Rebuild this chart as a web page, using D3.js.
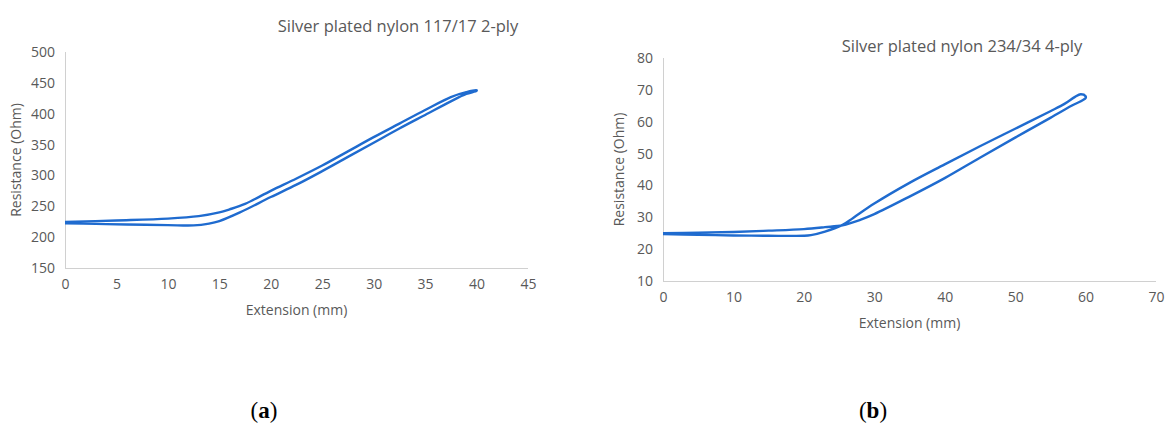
<!DOCTYPE html>
<html>
<head>
<meta charset="utf-8">
<script src="https://cdn.jsdelivr.net/npm/d3@7"></script>
<style>
    body { margin: 0; background: #fff; }
    .tick text { fill: #595959; font-family: "Open Sans", sans-serif; font-size: 14px; }
    .axis path, .axis line { stroke: #d0d0d0; }
</style>
</head>
<body>
<div id="chartdiv"></div>
<script>
// chart (a) data: extension (mm) and resistance (Ohm), loading then unloading
let a_out_ext = [0, 3, 6, 10, 12.5, 14, 15, 17, 20, 22.5, 25, 27.5, 30, 32.5, 35, 37.5, 39, 40],
    a_out_res = [222.5, 221.5, 220.5, 219.5, 219, 222, 226, 240, 265, 285, 307, 330, 353, 376, 398, 420, 432, 437],
    a_back_ext = [40, 39, 37.5, 35, 32.5, 30, 27.5, 25, 22.5, 20, 17.5, 16, 15, 13, 10, 5, 0],
    a_back_res = [438, 435, 427, 406, 384, 362, 339, 316, 295, 275, 254, 245, 240, 234, 230, 227, 224.5];
let a_xticks = [0, 5, 10, 15, 20, 25, 30, 35, 40, 45],
    a_yticks = [150, 200, 250, 300, 350, 400, 450, 500];

// chart (b) data
let b_out_ext = [0, 5, 10, 15, 20, 23, 25.5, 28, 30, 35, 40, 45, 50, 55, 58, 60],
    b_out_res = [25.0, 25.2, 25.4, 25.8, 26.3, 26.9, 27.5, 29.2, 31.0, 36.5, 42.3, 48.7, 55.0, 61.2, 65.0, 67.4],
    b_back_ext = [60, 59.3, 58.5, 57, 55, 50, 45, 40, 35, 30, 27, 25.5, 23, 21, 20, 15, 10, 5, 0],
    b_back_res = [68.0, 68.6, 67.8, 65.6, 63.3, 57.8, 52.3, 46.6, 40.8, 34.3, 29.8, 27.6, 25.5, 24.4, 24.2, 24.2, 24.3, 24.5, 24.7];
let b_xticks = [0, 10, 20, 30, 40, 50, 60, 70],
    b_yticks = [10, 20, 30, 40, 50, 60, 70, 80];

let svg = d3.select("#chartdiv").append("svg")
    .attr("width", 1170)
    .attr("height", 430);

function drawPanel(cfg) {
    let x = d3.scaleLinear().domain(cfg.xdom).range([cfg.left, cfg.right]);
    let y = d3.scaleLinear().domain(cfg.ydom).range([cfg.bottom, cfg.top]);

    let g = svg.append("g");
    g.append("g")
        .attr("class", "axis")
        .attr("transform", "translate(0," + cfg.bottom + ")")
        .call(d3.axisBottom(x).tickValues(cfg.xticks).tickSize(0).tickPadding(11))
        .call(s => s.select(".domain").attr("d", "M" + cfg.left + ",0.5H" + cfg.right));
    g.append("g")
        .attr("class", "axis")
        .attr("transform", "translate(" + cfg.left + ",0)")
        .call(d3.axisLeft(y).tickValues(cfg.yticks).tickSize(0).tickPadding(10))
        .call(s => s.select(".domain").attr("d", "M0.5," + cfg.top + "V" + cfg.bottom));

    // loop: out branch then back branch
    let pts = cfg.outExt.map((e, i) => [e, cfg.outRes[i]])
        .concat(cfg.backExt.map((e, i) => [e, cfg.backRes[i]]));
    let line = d3.line()
        .x(d => x(d[0]))
        .y(d => y(d[1]))
        .curve(d3.curveCatmullRom.alpha(0.5));
    g.append("path")
        .datum(pts)
        .attr("d", line)
        .attr("fill", "none")
        .attr("stroke", "#1f6bcf")
        .attr("stroke-width", 2.4)
        .attr("stroke-linejoin", "round");

    g.append("text")
        .attr("x", cfg.titleX)
        .attr("y", cfg.titleY)
        .attr("text-anchor", "middle")
        .attr("font-family", "Open Sans, sans-serif")
        .attr("font-size", 16.5)
        .attr("fill", "#595959")
        .text(cfg.title);
    g.append("text")
        .attr("x", (cfg.left + cfg.right) / 2)
        .attr("y", cfg.bottom + 47)
        .attr("text-anchor", "middle")
        .attr("font-family", "Open Sans, sans-serif")
        .attr("font-size", 14)
        .attr("fill", "#595959")
        .text("Extension (mm)");
    g.append("text")
        .attr("transform", "translate(" + cfg.ytitleX + "," + ((cfg.top + cfg.bottom) / 2) + ") rotate(-90)")
        .attr("text-anchor", "middle")
        .attr("font-family", "Open Sans, sans-serif")
        .attr("font-size", 14)
        .attr("fill", "#595959")
        .text("Resistance (Ohm)");

    let lab = g.append("text")
        .attr("x", cfg.labelX)
        .attr("y", 418)
        .attr("text-anchor", "middle")
        .attr("font-family", "Liberation Serif, serif")
        .attr("font-size", 23)
        .attr("fill", "#000");
    lab.append("tspan").text("(");
    lab.append("tspan").attr("font-weight", "bold").text(cfg.label);
    lab.append("tspan").text(")");
}

drawPanel({
    xdom: [0, 45], ydom: [150, 500],
    left: 65, right: 528, top: 52, bottom: 268,
    xticks: a_xticks, yticks: a_yticks,
    outExt: a_out_ext, outRes: a_out_res, backExt: a_back_ext, backRes: a_back_res,
    title: "Silver plated nylon 117/17 2-ply", titleX: 398, titleY: 32,
    ytitleX: 21, label: "a", labelX: 264
});
drawPanel({
    xdom: [0, 70], ydom: [10, 80],
    left: 663, right: 1156, top: 58, bottom: 281,
    xticks: b_xticks, yticks: b_yticks,
    outExt: b_out_ext, outRes: b_out_res, backExt: b_back_ext, backRes: b_back_res,
    title: "Silver plated nylon 234/34 4-ply", titleX: 962, titleY: 52,
    ytitleX: 624, label: "b", labelX: 873
});
</script>
</body>
</html>
